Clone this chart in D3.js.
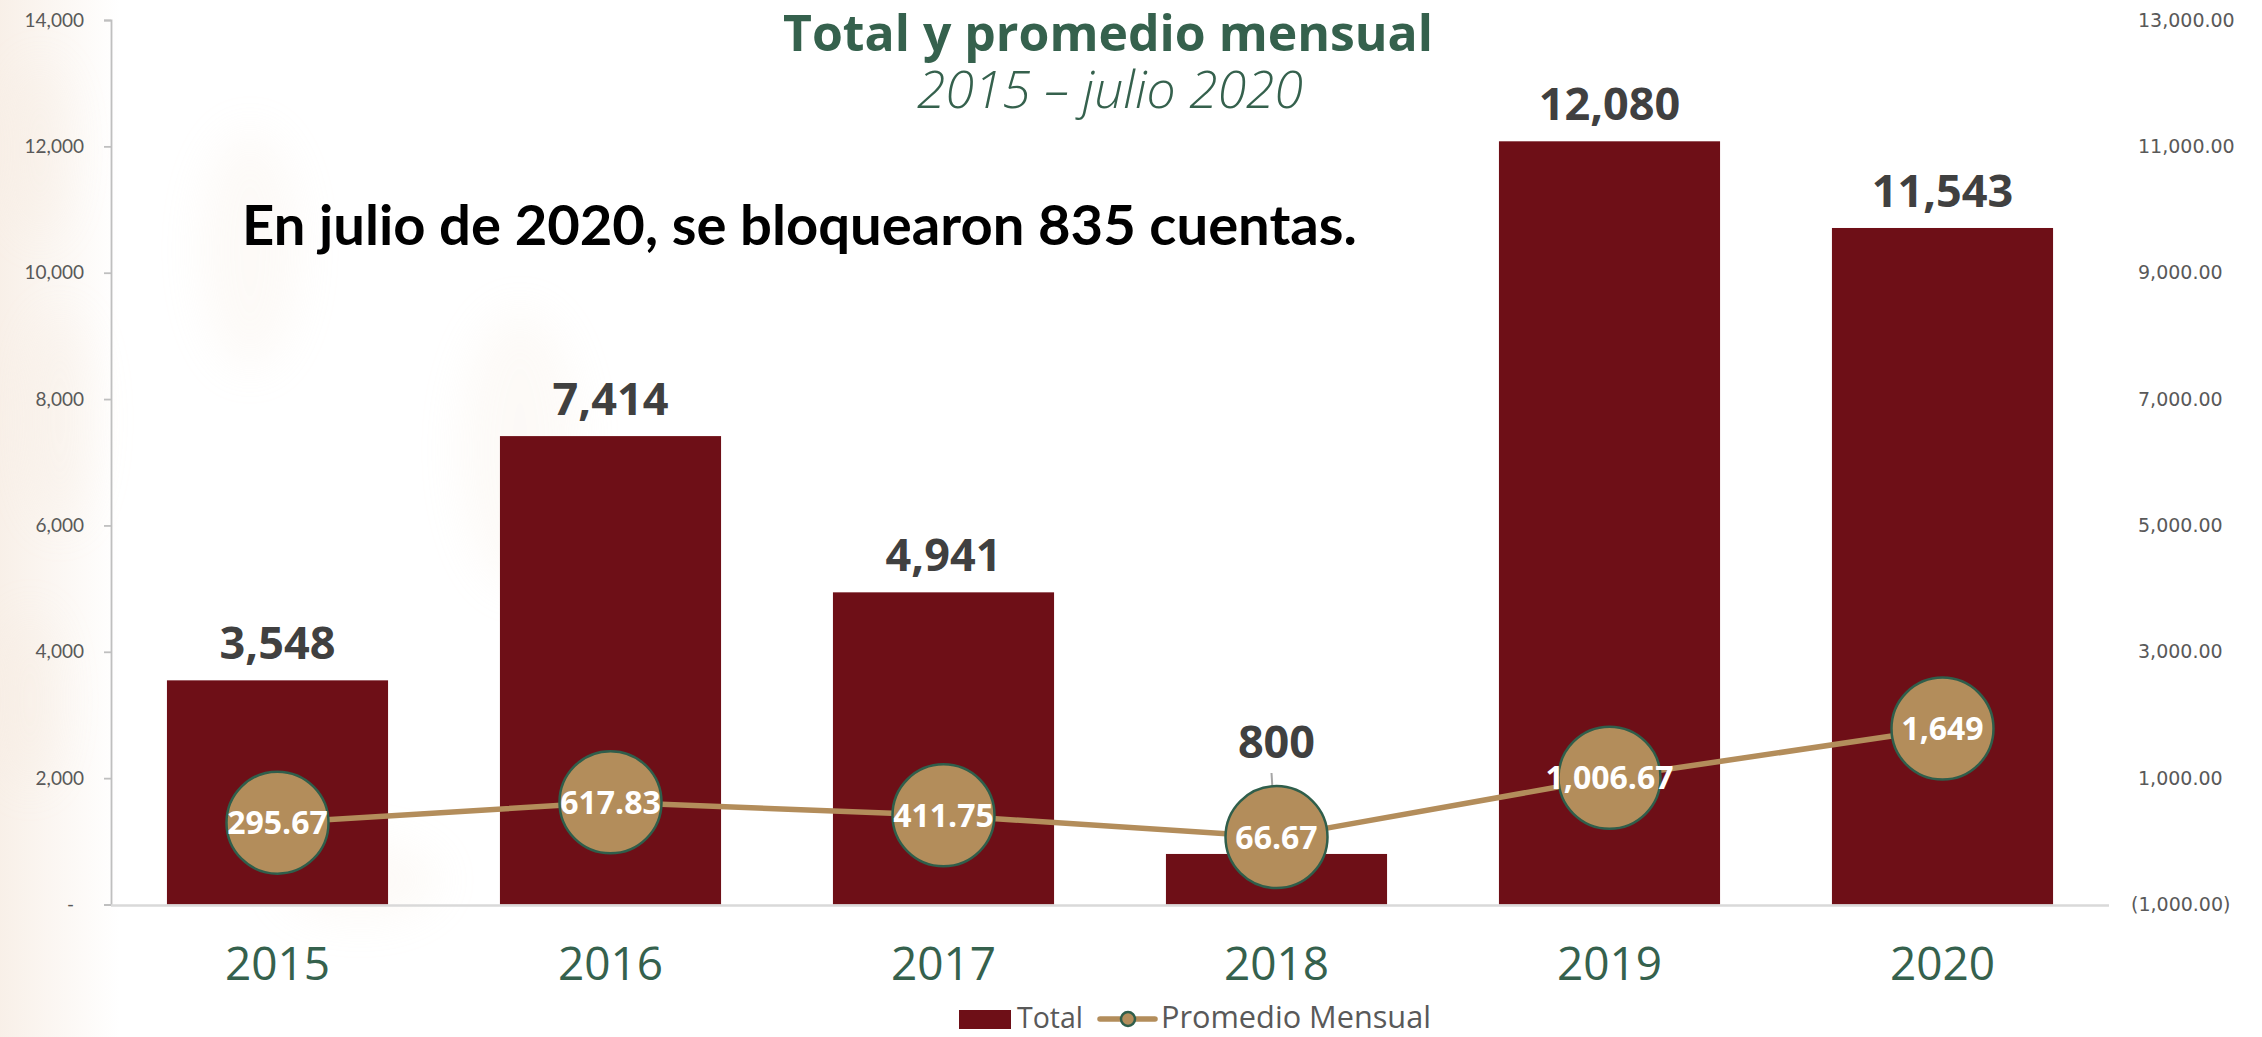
<!DOCTYPE html>
<html>
<head>
<meta charset="utf-8">
<script src="https://cdn.jsdelivr.net/npm/d3@7"></script>
<style>
  html, body { margin: 0; padding: 0; background: #ffffff; }
  svg { display: block; }
</style>
</head>
<body>
<svg id="chart" width="2262" height="1037"></svg>
<script>
// ---- data ----
const years = ["2015", "2016", "2017", "2018", "2019", "2020"];
const totals = [3548, 7414, 4941, 800, 12080, 10708];          // bar heights as drawn
const totalLabels = ["3,548", "7,414", "4,941", "800", "12,080", "11,543"];
const monthly = [295.67, 617.83, 411.75, 66.67, 1006.67, 1784.67]; // line values as drawn
const monthlyLabels = ["295.67", "617.83", "411.75", "66.67", "1,006.67", "1,649"];
const leftTicks = [0, 2000, 4000, 6000, 8000, 10000, 12000, 14000];
const rightTicks = [-1000, 1000, 3000, 5000, 7000, 9000, 11000, 13000];
const titleText = "Total y promedio mensual";
const subtitleText = "2015 \u2013 julio 2020";
const noteText = "En julio de 2020, se bloquearon 835 cuentas.";
const legendLabels = ["Total", "Promedio Mensual"];

// ---- styling ----
const W = 2262, H = 1037;
const x0 = 111, x1 = 2109, yTop = 20, yBase = 904.5;
const barColor = "#6E0F17", lineColor = "#B38D5B", bubbleStroke = "#2F5E4B";
const green = "#35614D", gray = "#595959";

const svg = d3.select("#chart");

// faint background watermark
const defs = svg.append("defs");
const grad = defs.append("linearGradient").attr("id", "wm").attr("x1", 0).attr("x2", 1);
grad.append("stop").attr("offset", 0).attr("stop-color", "#f7ede4").attr("stop-opacity", 0.85);
grad.append("stop").attr("offset", 1).attr("stop-color", "#f7ede4").attr("stop-opacity", 0);
defs.append("filter").attr("id", "bl").append("feGaussianBlur").attr("stdDeviation", 22);
svg.append("rect").attr("x", 0).attr("y", 0).attr("width", 120).attr("height", H).attr("fill", "url(#wm)");
const wmG = svg.append("g").attr("filter", "url(#bl)").attr("opacity", 0.14);
[[40, 150, 30, 90], [60, 420, 35, 110], [30, 700, 30, 90], [250, 250, 50, 120], [520, 450, 60, 140], [360, 880, 80, 40]]
  .forEach(([cx, cy, rx, ry]) => wmG.append("ellipse").attr("cx", cx).attr("cy", cy).attr("rx", rx).attr("ry", ry).attr("fill", "#efdcc8"));

// ---- scales ----
const x = d3.scaleBand().domain(years).range([x0, x1]).paddingInner(0.336).paddingOuter(0.168);
const yL = d3.scaleLinear().domain([0, 14000]).range([yBase, yTop]);
const yR = d3.scaleLinear().domain([-1000, 13000]).range([yBase, yTop]);

// ---- left axis ----
const fmtL = d => d === 0 ? "-" : d3.format(",")(d);
const axL = svg.append("g").attr("transform", `translate(${x0},0)`)
  .call(d3.axisLeft(yL).tickValues(leftTicks).tickSize(7).tickPadding(20).tickFormat(fmtL));
axL.select(".domain").attr("stroke", "#BFBFBF").attr("stroke-width", 1.8);
axL.selectAll(".tick line").attr("stroke", "#BFBFBF").attr("stroke-width", 1.8);
axL.selectAll(".tick text").attr("fill", gray).style("font-family", "Lato, 'Open Sans', sans-serif").style("font-size", "19px");
axL.selectAll(".tick text").filter(d => d === 0).attr("dx", -10);

// ---- right axis (labels only) ----
const fmtR = d => d < 0 ? "(" + d3.format(",.2f")(-d) + ")" : d3.format(",.2f")(d);
const axR = svg.append("g").attr("transform", `translate(${x1},0)`)
  .call(d3.axisRight(yR).tickValues(rightTicks).tickSize(0).tickPadding(29).tickFormat(fmtR));
axR.select(".domain").remove();
axR.selectAll(".tick text").attr("fill", gray).style("font-family", "'DejaVu Sans', sans-serif").style("font-size", "19px").attr("text-anchor", "start");
axR.selectAll(".tick text").filter(d => d < 0).attr("dx", -7);

// ---- bars ----
svg.append("g").selectAll("rect").data(years).join("rect")
  .attr("x", d => x(d)).attr("width", x.bandwidth())
  .attr("y", (d, i) => yL(totals[i])).attr("height", (d, i) => yBase - yL(totals[i]))
  .attr("fill", barColor);

// baseline
svg.append("line").attr("x1", x0).attr("x2", x1).attr("y1", yBase + 1).attr("y2", yBase + 1)
  .attr("stroke", "#D9D9D9").attr("stroke-width", 2.5);

// ---- bar labels ----
const cx = d => x(d) + x.bandwidth() / 2;
const labelY = years.map((d, i) => i === 3 ? 758 : yL(totals[i]) - 21);
// leader line for 2018
svg.append("line").attr("x1", cx(years[3]) - 5).attr("y1", 773).attr("x2", cx(years[3])).attr("y2", yR(monthly[3]) + 15)
  .attr("stroke", "#A6A6A6").attr("stroke-width", 2);
svg.append("g").selectAll("text").data(years).join("text")
  .attr("x", d => cx(d)).attr("y", (d, i) => labelY[i])
  .attr("text-anchor", "middle").attr("fill", "#404040")
  .style("font-family", "'Open Sans', sans-serif").style("font-weight", 700).style("font-size", "45px")
  .text((d, i) => totalLabels[i]);

// ---- line ----
const line = d3.line().x(d => cx(d)).y((d, i) => yR(monthly[i]));
svg.append("path").datum(years).attr("d", line).attr("fill", "none")
  .attr("stroke", lineColor).attr("stroke-width", 5.5);
svg.append("g").selectAll("circle").data(years).join("circle")
  .attr("cx", d => cx(d)).attr("cy", (d, i) => yR(monthly[i])).attr("r", 51)
  .attr("fill", lineColor).attr("stroke", bubbleStroke).attr("stroke-width", 2.5);
svg.append("g").selectAll("text").data(years).join("text")
  .attr("x", d => cx(d)).attr("y", (d, i) => yR(monthly[i])).attr("dy", "0.36em")
  .attr("text-anchor", "middle").attr("fill", "#ffffff")
  .style("font-family", "'Open Sans', sans-serif").style("font-weight", 700).style("font-size", "32px")
  .text((d, i) => monthlyLabels[i]);

// ---- x labels ----
svg.append("g").selectAll("text").data(years).join("text")
  .attr("x", d => cx(d)).attr("y", 980).attr("text-anchor", "middle").attr("fill", green)
  .style("font-family", "'Open Sans', sans-serif").style("font-size", "46px")
  .text(d => d);

// ---- text helpers ----
function fit(sel, target) {
  const node = sel.node();
  const w = node.getComputedTextLength();
  const fs = parseFloat(sel.style("font-size"));
  sel.style("font-size", (fs * target / w).toFixed(2) + "px");
  return sel;
}

// ---- title ----
fit(svg.append("text").attr("x", 1108).attr("y", 51).attr("text-anchor", "middle").attr("fill", green)
  .style("font-family", "'Open Sans', sans-serif").style("font-weight", 700).style("font-size", "48px")
  .text(titleText), 650);
fit(svg.append("text").attr("x", 1110).attr("y", 108).attr("text-anchor", "middle").attr("fill", green)
  .style("font-family", "'Open Sans', sans-serif").style("font-weight", 300).style("font-style", "italic").style("font-size", "46px")
  .text(subtitleText), 386);

// ---- note ----
fit(svg.append("text").attr("x", 242).attr("y", 245).attr("fill", "#000000")
  .style("font-family", "Lato, sans-serif").style("font-weight", 700).style("font-size", "50px")
  .text(noteText), 1115);

// ---- legend ----
const lg = svg.append("g");
lg.append("rect").attr("x", 959).attr("y", 1010).attr("width", 52).attr("height", 19).attr("fill", barColor);
fit(lg.append("text").attr("x", 1017).attr("y", 1028).attr("fill", gray)
  .style("font-family", "'Open Sans', sans-serif").style("font-size", "28px").text(legendLabels[0]), 66);
lg.append("line").attr("x1", 1100).attr("x2", 1155).attr("y1", 1019).attr("y2", 1019)
  .attr("stroke", lineColor).attr("stroke-width", 5.5).attr("stroke-linecap", "round");
lg.append("circle").attr("cx", 1128).attr("cy", 1019).attr("r", 7).attr("fill", lineColor).attr("stroke", bubbleStroke).attr("stroke-width", 2.5);
fit(lg.append("text").attr("x", 1161).attr("y", 1028).attr("fill", gray)
  .style("font-family", "'Open Sans', sans-serif").style("font-size", "28px").text(legendLabels[1]), 270);
</script>
</body>
</html>
